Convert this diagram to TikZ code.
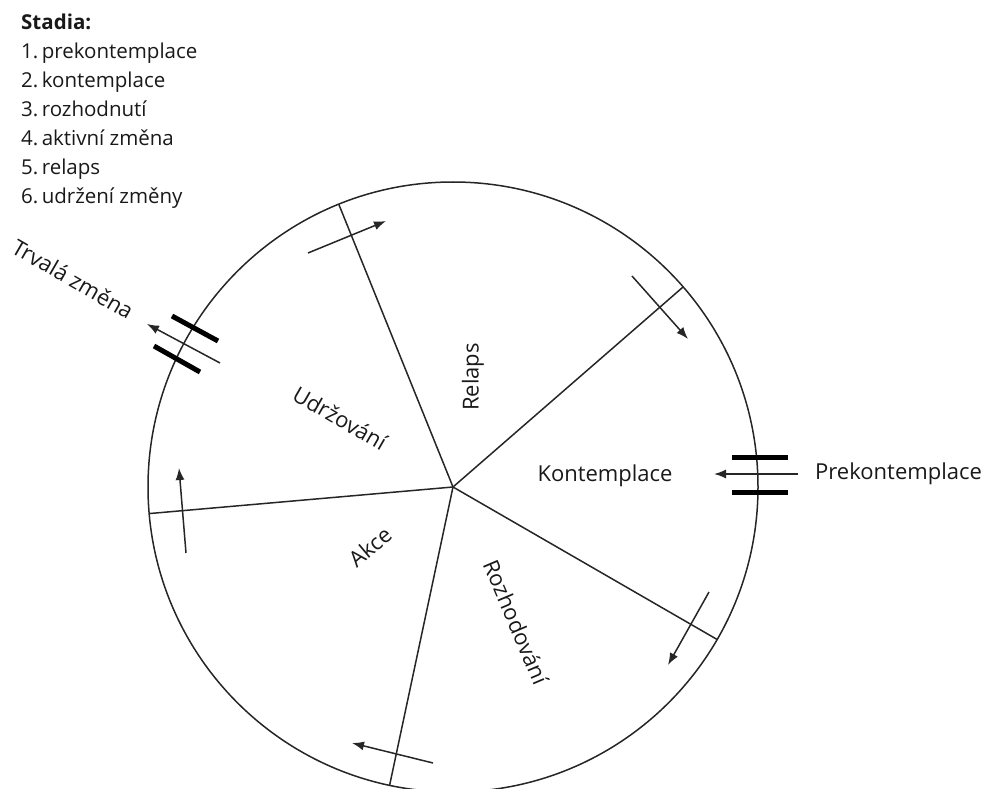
\documentclass[tikz,border=0pt]{standalone}
\usepackage{fontspec}
\setmainfont{Open Sans}
\usetikzlibrary{arrows.meta}
\begin{document}
\begin{tikzpicture}[x=1pt,y=-1pt,
  ln/.style={draw=black!85, line width=1.5pt},
  flow/.style={draw=black!85, line width=1.5pt, -{Latex[length=12pt,width=9pt]}},
  bar/.style={draw=black, line width=5pt},
  lbl/.style={font=\fontsize{22}{26}\selectfont, text=black!90, inner sep=0pt},
  lgd/.style={font=\fontsize{20.5}{29}\selectfont, text=black!90, inner sep=0pt, align=left},
]
\useasboundingbox (0,0) rectangle (991,789);
% wheel
\node[circle, draw=black!85, line width=1.5pt, inner sep=0pt, outer sep=0pt, minimum size=610pt] (ring) at (453,487) {};
\coordinate (c) at (453,487);
\draw[ln] (c) -- (ring.112.7);
\draw[ln] (c) -- (ring.41);
\draw[ln] (c) -- (ring.-30.9);
\draw[ln] (c) -- (ring.-102.9);
\draw[ln] (c) -- (ring.185.1);
% cycle arrows
\coordinate (a1s) at (308,253); \coordinate (a1e) at (386,221);
\coordinate (a2s) at (632,276); \coordinate (a2e) at (688,339);
\coordinate (a3s) at (709,592); \coordinate (a3e) at (668,665);
\coordinate (a4s) at (433,763); \coordinate (a4e) at (352,743);
\coordinate (a5s) at (186,553); \coordinate (a5e) at (179,468);
\draw[flow] (a1s) -- (a1e);
\draw[flow] (a2s) -- (a2e);
\draw[flow] (a3s) -- (a3e);
\draw[flow] (a4s) -- (a4e);
\draw[flow] (a5s) -- (a5e);
% entry (Prekontemplace)
\coordinate (b1s) at (732,457); \coordinate (b1e) at (788,457);
\coordinate (b2s) at (732,492); \coordinate (b2e) at (788,492);
\draw[bar] (b1s) -- (b1e);
\draw[bar] (b2s) -- (b2e);
\node[lbl, anchor=west] (prek) at (815,474) {Prekontemplace};
\coordinate (ins) at (798,474);
\coordinate (ine) at (714,474);
\draw[flow] (ins) -- (ine);
% exit (Trvala zmena)
\coordinate (x1s) at (172,316); \coordinate (x1e) at (218,341);
\coordinate (x2s) at (154,346); \coordinate (x2e) at (200,372);
\draw[bar] (x1s) -- (x1e);
\draw[bar] (x2s) -- (x2e);
\coordinate (outs) at (220,363); \coordinate (oute) at (147,324);
\draw[flow] (outs) -- (oute);
\node[lbl, rotate=-30] (trv) at (73,279) {Trvalá změna};
% sector labels
\node[lbl, rotate=90] (relaps) at (473,377) {Relaps};
\node[lbl, rotate=-30] (udr) at (340,418) {Udržování};
\node[lbl] (kont) at (605,476) {Kontemplace};
\node[lbl, rotate=40] (akce) at (370,547) {Akce};
\node[lbl, rotate=-67] (rozh) at (516,622) {Rozhodování};
% legend
\node[lgd, anchor=north west] (legend) at (21,14) {\textbf{Stadia:}\\1.\,prekontemplace\\2.\,kontemplace\\3.\,rozhodnutí\\4.\,aktivní změna\\5.\,relaps\\6.\,udržení změny};
\end{tikzpicture}
\end{document}
